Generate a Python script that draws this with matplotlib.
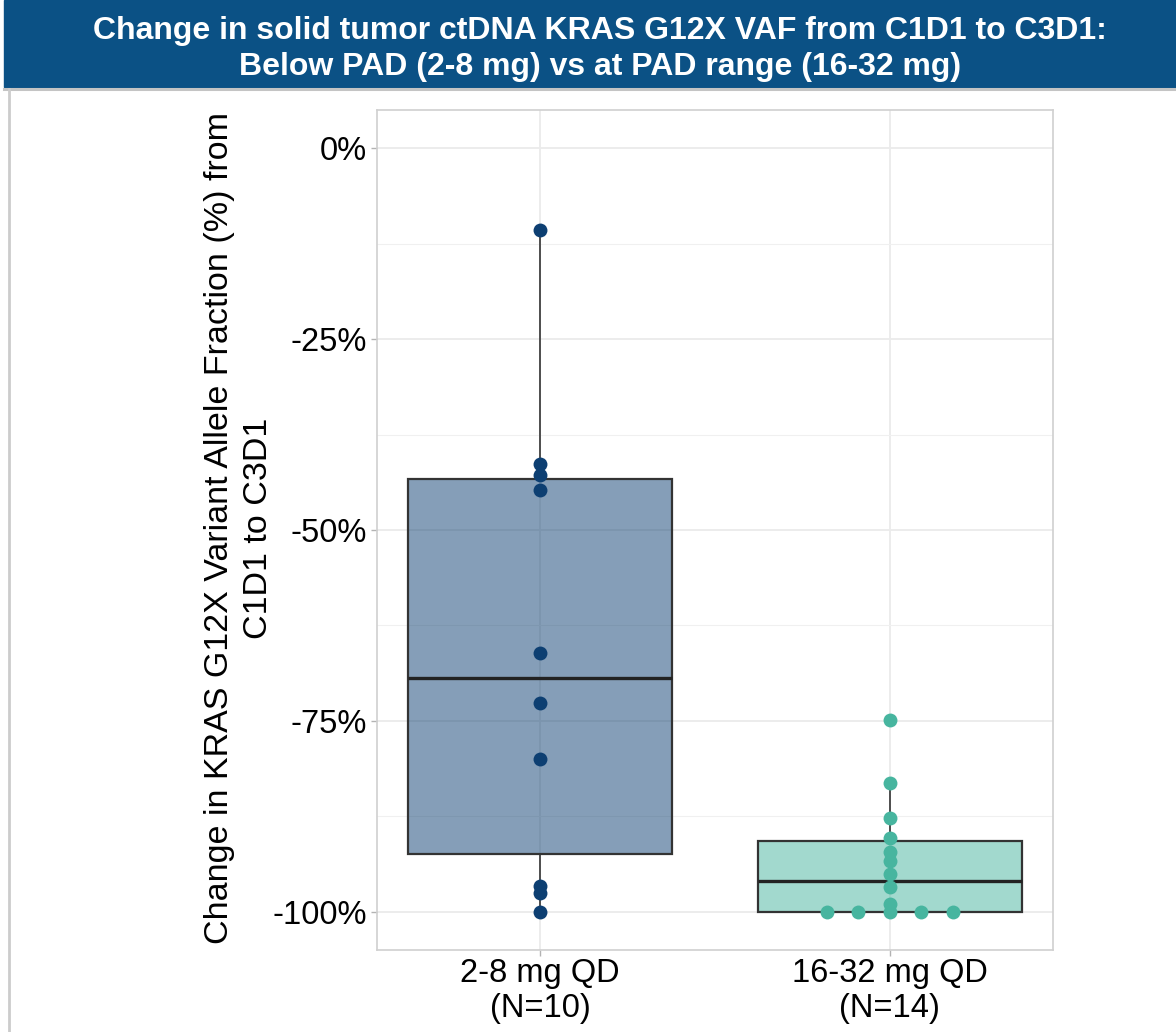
import numpy as np
import matplotlib.pyplot as plt
from matplotlib.patches import Rectangle
from matplotlib.lines import Line2D

plt.rcParams['font.family'] = ['Liberation Sans', 'DejaVu Sans']
plt.rcParams['axes.unicode_minus'] = False

# percent change in KRAS G12X VAF, C1D1 -> C3D1
groups = ['2-8 mg QD\n(N=10)', '16-32 mg QD\n(N=14)']
low_dose = [-10.7, -41.4, -42.8, -44.7, -66.1, -72.7, -80.0, -96.6, -97.6, -100.0]
pad_dose = [-74.9, -83.1, -87.7, -90.3, -92.2, -93.3, -95.1, -96.7, -99.0,
            -100.0, -100.0, -100.0, -100.0, -100.0]
point_colors = ['#0d3f72', '#47b59f']
yticks = [0, -25, -50, -75, -100]

title = ('Change in solid tumor ctDNA KRAS G12X VAF from C1D1 to C3D1:\n'
         'Below PAD (2-8 mg) vs at PAD range (16-32 mg)')
ylabel = 'Change in KRAS G12X Variant Allele Fraction (%) from\nC1D1 to C3D1'


def swarm_offsets(values, step=0.09):
    # spread tied values side by side around the group centre
    values = np.asarray(values)
    offs = np.zeros(len(values))
    for v in np.unique(values):
        idx = np.where(values == v)[0]
        offs[idx] = (np.arange(len(idx)) - (len(idx) - 1) / 2) * step
    return offs


fig = plt.figure(figsize=(11.76, 10.32), dpi=100)

# header banner
fig.patches.append(Rectangle((4 / 1176, 1 - 87 / 1032), 1, 87 / 1032,
                             transform=fig.transFigure, color='#0b5185', zorder=0))
fig.lines.append(Line2D([4 / 1176, 1], [1 - 88.5 / 1032] * 2, transform=fig.transFigure,
                        color='#c4c4c4', lw=2.2))
fig.lines.append(Line2D([9 / 1176] * 2, [0, 1 - 89 / 1032], transform=fig.transFigure,
                        color='#cccccc', lw=2))
fig.text(600 / 1176, 1 - 49 / 1032, title, ha='center', va='center', color='white',
         fontsize=23, fontweight='bold', linespacing=1.28)

ax = fig.add_axes([377 / 1176, 1 - 950 / 1032, 676 / 1176, 840 / 1032])

data = [low_dose, pad_dose]
positions = [1, 2]
bp = ax.boxplot(data, positions=positions, widths=0.756, patch_artist=True,
                showfliers=False, showcaps=False, whis=1.5, zorder=3,
                boxprops=dict(edgecolor='#333333', linewidth=1.6),
                whiskerprops=dict(color='#333333', linewidth=1.2),
                medianprops=dict(color='#222222', linewidth=2.4))
for patch, c in zip(bp['boxes'], point_colors):
    r, g, b = plt.matplotlib.colors.to_rgb(c)
    patch.set_facecolor((r, g, b, 0.5))

for pos, vals, c in zip(positions, data, point_colors):
    x = pos + swarm_offsets(vals)
    ax.scatter(x, vals, s=100, color=c, zorder=4, linewidths=0)

ax.set_xlim(0.533, 2.467)
ax.set_ylim(-105, 5)
ax.set_xticks(positions)
ax.set_xticklabels(groups, linespacing=1.15)
ax.set_yticks(yticks)
ax.set_yticklabels([f'{v}%' for v in yticks])
ax.set_yticks([-12.5, -37.5, -62.5, -87.5], minor=True)
ax.tick_params(axis='both', which='major', labelsize=23.5, colors='#b3b3b3',
               labelcolor='black', length=4, width=1)
ax.tick_params(axis='y', which='minor', length=0)
ax.tick_params(axis='x', pad=2)
ax.tick_params(axis='y', pad=3)

ax.grid(True, which='major', color='#ebebeb', lw=1.3, zorder=0)
ax.grid(True, which='minor', axis='y', color='#f0f0f0', lw=0.8, zorder=0)
ax.set_axisbelow(True)
for s in ax.spines.values():
    s.set_color('#d0d0d0')
    s.set_linewidth(1.2)

fig.text(239 / 1176, 1 - 528 / 1032, ylabel, rotation=90, ha='center', va='center',
         fontsize=24.5, linespacing=1.3)

fig.savefig('out.png', dpi=100)
